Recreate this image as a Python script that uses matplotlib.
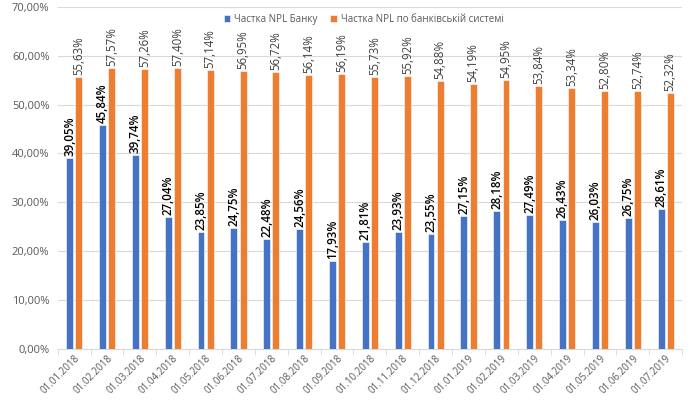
import matplotlib
matplotlib.use('Agg')
import matplotlib.pyplot as plt
import numpy as np

# ── DATA ─────────────────────────────────────────────────────────────────────
dates = ["01.01.2018", "01.02.2018", "01.03.2018", "01.04.2018", "01.05.2018",
         "01.06.2018", "01.07.2018", "01.08.2018", "01.09.2018", "01.10.2018",
         "01.11.2018", "01.12.2018", "01.01.2019", "01.02.2019", "01.03.2019",
         "01.04.2019", "01.05.2019", "01.06.2019", "01.07.2019"]
bank_npl = [39.05, 45.84, 39.74, 27.04, 23.85, 24.75, 22.48, 24.56, 17.93, 21.81,
            23.93, 23.55, 27.15, 28.18, 27.49, 26.43, 26.03, 26.75, 28.61]
system_npl = [55.63, 57.57, 57.26, 57.40, 57.14, 56.95, 56.72, 56.14, 56.19, 55.73,
              55.92, 54.88, 54.19, 54.95, 53.84, 53.34, 52.80, 52.74, 52.32]

label_bank = "Частка NPL Банку"
label_system = "Частка NPL по банківській системі"

# ── STYLE ────────────────────────────────────────────────────────────────────
C_BLUE = "#4472C4"
C_ORANGE = "#ED7D31"
C_GRID = "#D9D9D9"
C_TICK = "#595959"

plt.rcParams["font.family"] = ["Open Sans", "DejaVu Sans"]

fig = plt.figure(figsize=(6.96, 4.01), dpi=100)
ax = fig.add_axes([0.083, 0.130, 0.897, 0.853])

x = np.arange(len(dates))
w = 0.21
off = 0.14

ax.bar(x - off, bank_npl, w, color=C_BLUE, edgecolor="white", linewidth=0.4,
       label=label_bank, zorder=3)
ax.bar(x + off, system_npl, w, color=C_ORANGE, edgecolor="white", linewidth=0.4,
       label=label_system, zorder=3)

def fmt(v):
    return f"{v:.2f}%".replace(".", ",")

for xi, v in zip(x, bank_npl):
    ax.text(xi - off, v + 0.4, fmt(v), rotation=90, ha="center", va="bottom",
            fontsize=8.3, fontweight="semibold", color="black")
for xi, v in zip(x, system_npl):
    ax.text(xi + off, v + 0.4, fmt(v), rotation=90, ha="center", va="bottom",
            fontsize=8.3, color="#404040")

ax.set_ylim(0, 70)
ax.set_xlim(-0.5, len(dates) - 0.5)
ax.set_yticks(np.arange(0, 71, 10))
ax.set_yticklabels([f"{t:.2f}%".replace(".", ",") for t in np.arange(0, 71, 10)],
                   fontsize=8, color=C_TICK)
ax.yaxis.grid(True, color=C_GRID, linewidth=0.8, zorder=0)
ax.tick_params(axis="y", length=0, pad=6)

ax.set_xticks(x)
ax.set_xticklabels(dates, rotation=45, ha="right", rotation_mode="anchor",
                   fontsize=7, color=C_TICK)
ax.tick_params(axis="x", which="major", length=0, pad=3)
ax.set_xticks(np.arange(-0.5, len(dates)), minor=True)
ax.tick_params(axis="x", which="minor", length=4, color=C_GRID)

for s in ["top", "right", "left"]:
    ax.spines[s].set_visible(False)
ax.spines["bottom"].set_color(C_GRID)

ax.legend(loc="upper center", bbox_to_anchor=(0.49, 1.005), ncol=2, frameon=False,
          fontsize=7, handlelength=0.7, handleheight=0.7, columnspacing=1.3,
          handletextpad=0.4, labelcolor=C_TICK)

fig.savefig("out.png", dpi=100, facecolor="white")
